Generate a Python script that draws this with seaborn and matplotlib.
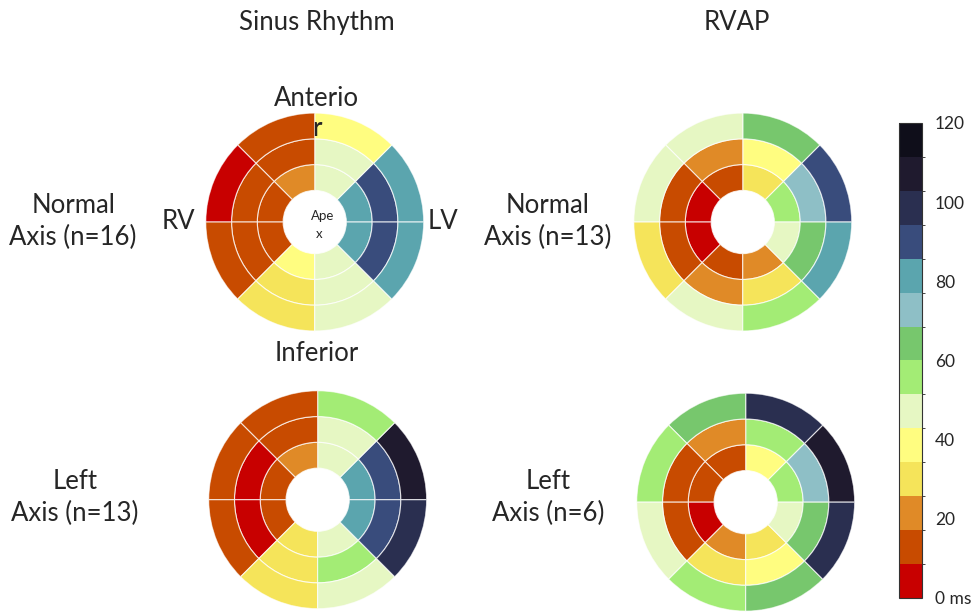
##################################################################################
# Bullseye maps of activation time, sinus rhythm vs RV apical pacing
##################################################################################
import matplotlib
matplotlib.use('Agg')
import matplotlib.pyplot as plt
from matplotlib.colors import ListedColormap, BoundaryNorm
from matplotlib.cm import ScalarMappable
import seaborn as sns
import numpy as np

##################################################################################
# data: activation time (ms) per segment, 8 sectors per ring, counter-clockwise
# starting at the LV side (east)
##################################################################################
SR_NORMAL_INNER = [81, 47, 21, 13, 13, 39, 47, 81]
SR_NORMAL_MID = [90, 47, 13, 13, 13, 30, 47, 90]
SR_NORMAL_OUTER = [81, 39, 13, 4, 13, 30, 47, 81]

RVAP_NORMAL_INNER = [56, 30, 13, 4, 4, 13, 21, 47]
RVAP_NORMAL_MID = [73, 39, 21, 13, 13, 21, 30, 64]
RVAP_NORMAL_OUTER = [90, 64, 47, 47, 30, 47, 56, 81]

SR_LEFT_INNER = [81, 47, 21, 13, 13, 30, 47, 81]
SR_LEFT_MID = [90, 47, 13, 4, 4, 30, 56, 90]
SR_LEFT_OUTER = [107, 56, 13, 13, 13, 30, 47, 99]

RVAP_LEFT_INNER = [56, 39, 13, 13, 4, 21, 30, 47]
RVAP_LEFT_MID = [73, 56, 21, 13, 13, 30, 39, 64]
RVAP_LEFT_OUTER = [107, 99, 64, 56, 47, 56, 64, 99]

COL_TITLES = ['Sinus Rhythm', 'RVAP']
ROW_LABELS = [['Normal\nAxis (n=16)', 'Normal\nAxis (n=13)'],
              ['Left\nAxis (n=13)', 'Left\nAxis (n=6)']]
CBAR_TICKS = [0, 20, 40, 60, 80, 100, 120]
CBAR_LABELS = ['0 ms', '20', '40', '60', '80', '100', '120']

# 14 discrete colour steps from 0 to 120 ms
COLORS = ['#c80000', '#c84b00', '#e08a27', '#f5e45a', '#fffd80', '#e6f7c3',
          '#a3ec75', '#77c76d', '#8ebfc6', '#5ba5ae', '#394c7c', '#2a2f50',
          '#1f1a2e', '#0f0e1a']

##################################################################################
# style
##################################################################################
sns.set_style('white')
plt.rcParams['font.family'] = ['Lato', 'DejaVu Sans']

cmap = ListedColormap(sns.color_palette(COLORS))
norm = BoundaryNorm(np.linspace(0, 120, len(COLORS) + 1), cmap.N)

R_EDGES = [0.29, 0.527, 0.763, 1.0]
theta = np.deg2rad(22.5 + 45 * np.arange(8))

FS = 18.5

fig = plt.figure(figsize=(9.75, 6.13), dpi=100)

# axes placement [left, bottom, width, height]
W, H = 0.2236, 0.3556
POS = [[[0.211, 0.460, W, H], [0.650, 0.460, W, H]],
       [[0.214, 0.007, W, H], [0.653, 0.003, W, H]]]

PANELS = [[(SR_NORMAL_INNER, SR_NORMAL_MID, SR_NORMAL_OUTER),
           (RVAP_NORMAL_INNER, RVAP_NORMAL_MID, RVAP_NORMAL_OUTER)],
          [(SR_LEFT_INNER, SR_LEFT_MID, SR_LEFT_OUTER),
           (RVAP_LEFT_INNER, RVAP_LEFT_MID, RVAP_LEFT_OUTER)]]

for i_r in range(2):
    for i_c in range(2):
        ax = fig.add_axes(POS[i_r][i_c], projection='polar')
        for i_ring, vals in enumerate(PANELS[i_r][i_c]):
            ax.bar(theta, R_EDGES[i_ring + 1] - R_EDGES[i_ring], width=np.pi / 4,
                   bottom=R_EDGES[i_ring], color=cmap(norm(vals)),
                   edgecolor=(1, 1, 1, 0.75), linewidth=0.8)
        ax.set_ylim(0, 1)
        ax.set_axis_off()

# column titles and row labels
for i_c, x in enumerate([0.325, 0.756]):
    fig.text(x, 0.964, COL_TITLES[i_c], ha='center', va='center', fontsize=FS)

ROW_XY = [[(0.075, 0.638), (0.562, 0.638)],
          [(0.077, 0.188), (0.562, 0.188)]]
for i_r in range(2):
    for i_c in range(2):
        x, y = ROW_XY[i_r][i_c]
        fig.text(x, y, ROW_LABELS[i_r][i_c], ha='center', va='center',
                 fontsize=FS, linespacing=1.35)

# orientation labels on the first map
fig.text(0.325, 0.840, 'Anterio', ha='center', va='center', fontsize=FS)
fig.text(0.325, 0.790, 'r', ha='center', va='center', fontsize=FS)
fig.text(0.183, 0.638, 'RV', ha='center', va='center', fontsize=FS)
fig.text(0.454, 0.638, 'LV', ha='center', va='center', fontsize=FS)
fig.text(0.325, 0.424, 'Inferior', ha='center', va='center', fontsize=FS)
fig.text(0.331, 0.648, 'Ape', ha='center', va='center', fontsize=9.5)
fig.text(0.327, 0.618, 'x', ha='center', va='center', fontsize=9.5)

# colour bar
cax = fig.add_axes([0.922, 0.0245, 0.024, 0.775])
cb = fig.colorbar(ScalarMappable(norm=norm, cmap=cmap), cax=cax,
                  ticks=CBAR_TICKS)
cb.ax.set_yticklabels(CBAR_LABELS)
cb.ax.tick_params(length=0, pad=9, labelsize=12.5)
cb.outline.set_linewidth(0.8)
cb.outline.set_edgecolor('#333333')

plt.savefig('out.png', dpi=100)
